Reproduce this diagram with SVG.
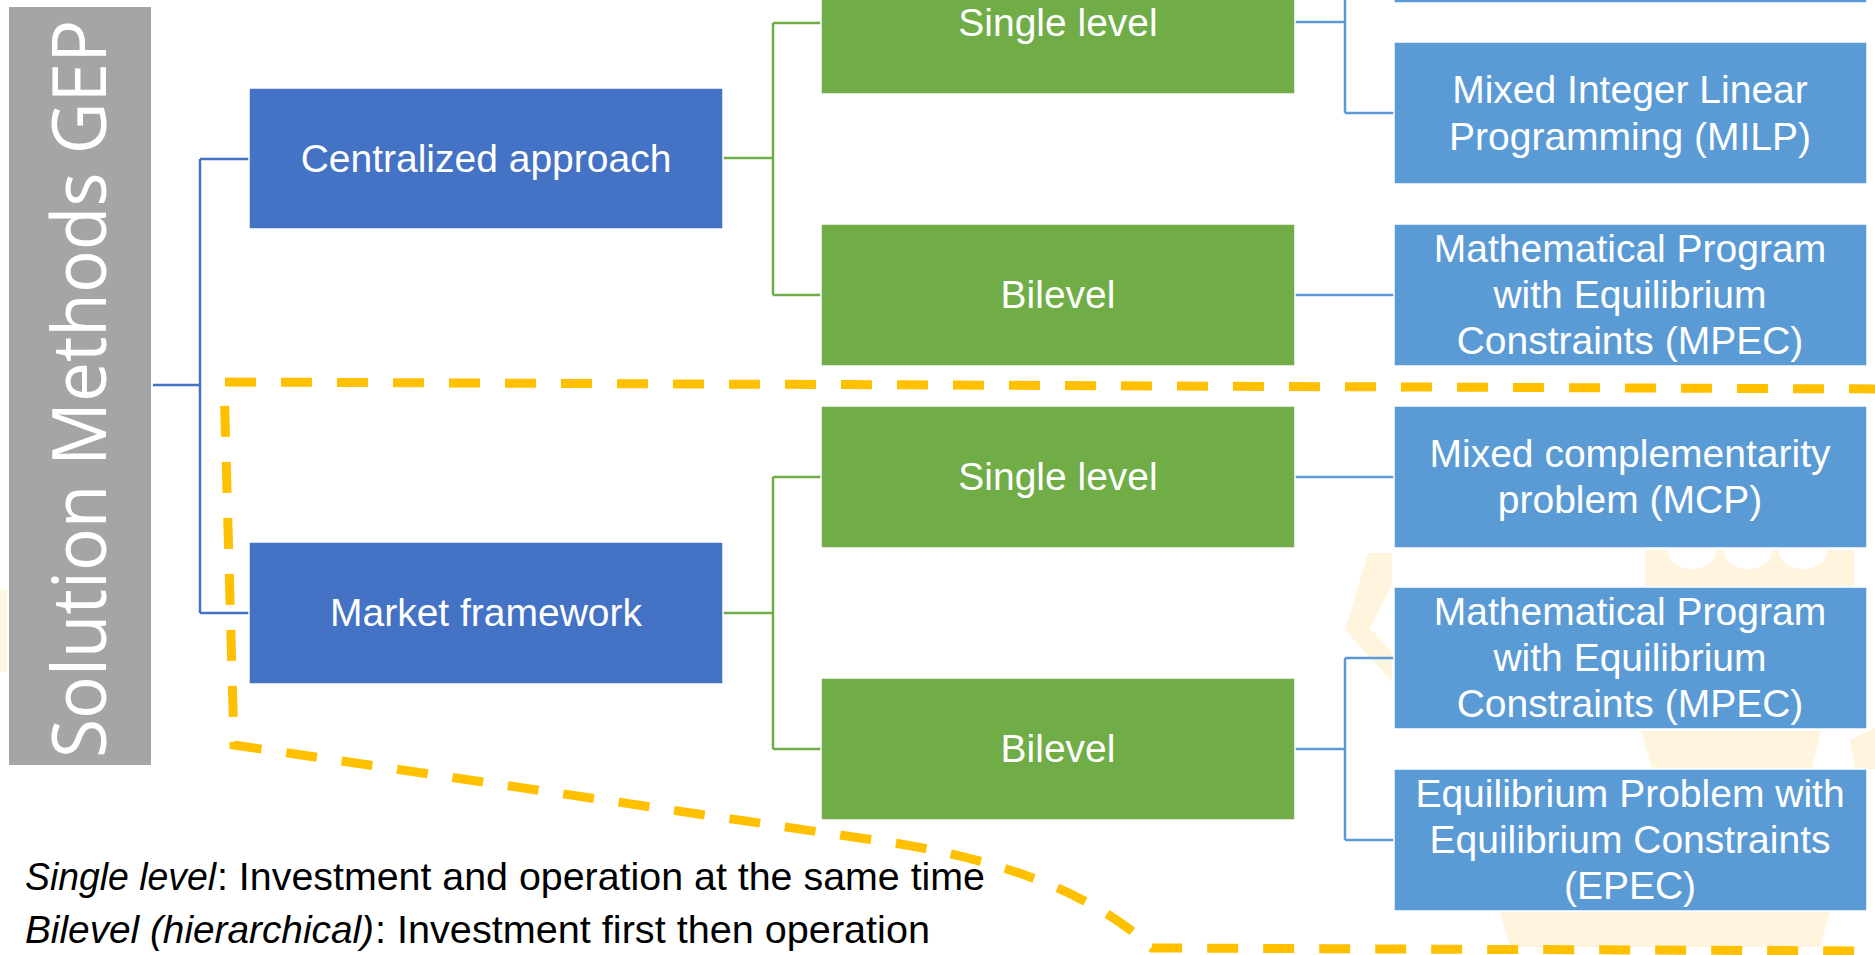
<svg xmlns="http://www.w3.org/2000/svg" width="1875" height="955" viewBox="0 0 1875 955">
<style>
  .lbl { font-family: "Liberation Sans", Arial, sans-serif; font-size: 39px; fill: #ffffff; text-anchor: middle; }
  .legend { font-family: "Liberation Sans", Arial, sans-serif; font-size: 39px; fill: #000000; }
  .dark { fill: #4472C4; stroke: #ffffff; stroke-width: 1.5; }
  .green { fill: #70AD47; stroke: #ffffff; stroke-width: 1.5; }
  .light { fill: #5B9BD5; stroke: #ffffff; stroke-width: 1.5; }
  .c-dark { stroke: #4472C4; stroke-width: 2.5; fill: none; }
  .c-green { stroke: #70AD47; stroke-width: 2.5; fill: none; }
  .c-light { stroke: #5B9BD5; stroke-width: 2.5; fill: none; }
  .wm { fill: #FFF5DF; }
</style>
<rect x="0" y="0" width="1875" height="955" fill="#ffffff"/>

<g id="watermark">
  <rect class="wm" x="0" y="590" width="7" height="82"/>
  <rect class="wm" x="1645" y="550" width="209" height="37"/>
  <ellipse cx="1692" cy="551" rx="24" ry="18" fill="#ffffff"/>
  <ellipse cx="1748" cy="551" rx="24" ry="18" fill="#ffffff"/>
  <ellipse cx="1803" cy="551" rx="24" ry="18" fill="#ffffff"/>
  <polygon class="wm" points="1392,553 1368,553 1345,630 1392,682 1392,652 1370,628 1392,585"/>
  <polygon class="wm" points="1641,731 1821,731 1812,769 1652,769"/>
  <polygon class="wm" points="1850,740 1875,728 1875,769 1855,769"/>
  <polygon class="wm" points="1500,912 1830,912 1820,947 1510,947"/>
</g>

<g id="connectors">
  <path class="c-dark" d="M153,385 H200 M200,159 V613 M200,159 H249 M200,613 H249"/>
  <path class="c-green" d="M723,158 H773 M773,23 V295 M773,23 H821 M773,295 H821"/>
  <path class="c-green" d="M723,613 H773 M773,477 V749 M773,477 H821 M773,749 H821"/>
  <path class="c-light" d="M1295,22 H1345 M1345,-70 V113 M1345,-68 H1394 M1345,113 H1394"/>
  <path class="c-light" d="M1295,295 H1394"/>
  <path class="c-light" d="M1295,477 H1394"/>
  <path class="c-light" d="M1295,749 H1345 M1345,658 V840 M1345,658 H1394 M1345,840 H1394"/>
</g>

<g id="title">
  <rect x="9" y="7" width="142" height="758" fill="#A5A5A5"/>
  <text transform="translate(106,758) rotate(-90)" x="0" y="0" textLength="738" lengthAdjust="spacingAndGlyphs" style="font-family: 'Open Sans', 'DejaVu Sans', sans-serif; font-weight: 400; font-size: 75px; fill: #ffffff;">Solution Methods GEP</text>
</g>

<g id="centralized">
  <rect class="dark" x="249" y="88" width="474" height="141"/>
  <text class="lbl" x="486" y="172">Centralized approach</text>
</g>
<g id="market">
  <rect class="dark" x="249" y="542" width="474" height="142"/>
  <text class="lbl" x="486" y="626">Market framework</text>
</g>

<g id="single-level-1">
  <rect class="green" x="821" y="-47" width="474" height="141"/>
  <text class="lbl" x="1058" y="36">Single level</text>
</g>
<g id="bilevel-1">
  <rect class="green" x="821" y="224" width="474" height="142"/>
  <text class="lbl" x="1058" y="308">Bilevel</text>
</g>
<g id="single-level-2">
  <rect class="green" x="821" y="406" width="474" height="142"/>
  <text class="lbl" x="1058" y="490">Single level</text>
</g>
<g id="bilevel-2">
  <rect class="green" x="821" y="678" width="474" height="142"/>
  <text class="lbl" x="1058" y="762">Bilevel</text>
</g>

<g id="top-method">
  <rect class="light" x="1394" y="-139" width="473" height="142"/>
</g>
<g id="milp">
  <rect class="light" x="1394" y="42" width="473" height="142"/>
  <text class="lbl" x="1630" y="103">Mixed Integer Linear</text>
  <text class="lbl" x="1630" y="150">Programming (MILP)</text>
</g>
<g id="mpec-1">
  <rect class="light" x="1394" y="224" width="473" height="142"/>
  <text class="lbl" x="1630" y="262">Mathematical Program</text>
  <text class="lbl" x="1630" y="308">with Equilibrium</text>
  <text class="lbl" x="1630" y="354">Constraints (MPEC)</text>
</g>
<g id="mcp">
  <rect class="light" x="1394" y="406" width="473" height="142"/>
  <text class="lbl" x="1630" y="467">Mixed complementarity</text>
  <text class="lbl" x="1630" y="513">problem (MCP)</text>
</g>
<g id="mpec-2">
  <rect class="light" x="1394" y="587" width="473" height="142"/>
  <text class="lbl" x="1630" y="625">Mathematical Program</text>
  <text class="lbl" x="1630" y="671">with Equilibrium</text>
  <text class="lbl" x="1630" y="717">Constraints (MPEC)</text>
</g>
<g id="epec">
  <rect class="light" x="1394" y="769" width="473" height="142"/>
  <text class="lbl" x="1630" y="807">Equilibrium Problem with</text>
  <text class="lbl" x="1630" y="853">Equilibrium Constraints</text>
  <text class="lbl" x="1630" y="899">(EPEC)</text>
</g>

<g id="legend">
  <text class="legend" x="25" y="890" font-style="italic" textLength="191" lengthAdjust="spacingAndGlyphs">Single level</text>
  <text class="legend" x="217" y="890" textLength="768" lengthAdjust="spacingAndGlyphs">: Investment and operation at the same time</text>
  <text class="legend" x="25" y="943" font-style="italic" textLength="349" lengthAdjust="spacingAndGlyphs">Bilevel (hierarchical)</text>
  <text class="legend" x="375" y="943" textLength="555" lengthAdjust="spacingAndGlyphs">: Investment first then operation</text>
</g>

<g id="highlight">
  <path d="M1880,389 L224,382 L234,745 L860,838 Q1062,864 1152,948 L1880,951" fill="none" stroke="#FFC000" stroke-width="9" stroke-dasharray="31 25"/>
</g>
</svg>
